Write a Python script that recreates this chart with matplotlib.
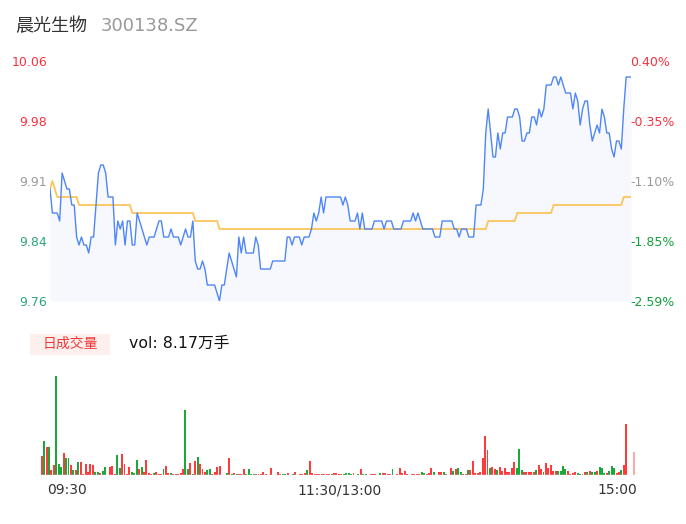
import matplotlib
matplotlib.use("Agg")
import matplotlib.pyplot as plt

plt.rcParams['font.family'] = ['DejaVu Sans', 'Noto Sans CJK SC']

W, H = 686, 524

# minute prices 09:30 .. 11:30 / 13:00 .. 15:00 (241 points)
price = [
    9.90, 9.87, 9.87, 9.87, 9.86, 9.92, 9.91, 9.90, 9.90, 9.88,
    9.88, 9.84, 9.83, 9.84, 9.83, 9.83, 9.82, 9.84, 9.84, 9.88,
    9.92, 9.93, 9.93, 9.92, 9.89, 9.89, 9.89, 9.83, 9.86, 9.85,
    9.86, 9.83, 9.86, 9.86, 9.83, 9.83, 9.87, 9.86, 9.85, 9.84,
    9.83, 9.84, 9.84, 9.84, 9.85, 9.86, 9.86, 9.84, 9.84, 9.84,
    9.85, 9.84, 9.84, 9.84, 9.83, 9.84, 9.85, 9.84, 9.84, 9.86,
    9.81, 9.80, 9.80, 9.81, 9.80, 9.78, 9.78, 9.78, 9.78, 9.77,
    9.76, 9.78, 9.78, 9.80, 9.82, 9.81, 9.80, 9.79, 9.84, 9.82,
    9.84, 9.82, 9.82, 9.82, 9.82, 9.84, 9.83, 9.80, 9.80, 9.80,
    9.80, 9.80, 9.81, 9.81, 9.81, 9.81, 9.81, 9.81, 9.84, 9.84,
    9.83, 9.84, 9.84, 9.84, 9.83, 9.84, 9.84, 9.84, 9.85, 9.87,
    9.86, 9.87, 9.89, 9.87, 9.89, 9.89, 9.89, 9.89, 9.89, 9.89,
    9.89, 9.88, 9.89, 9.88, 9.86, 9.86, 9.86, 9.87, 9.85, 9.87,
    9.85, 9.85, 9.85, 9.85, 9.86, 9.86, 9.86, 9.86, 9.85, 9.86,
    9.86, 9.86, 9.85, 9.85, 9.85, 9.85, 9.86, 9.86, 9.86, 9.86,
    9.87, 9.86, 9.87, 9.86, 9.85, 9.85, 9.85, 9.85, 9.85, 9.84,
    9.84, 9.84, 9.86, 9.86, 9.86, 9.86, 9.86, 9.85, 9.85, 9.84,
    9.85, 9.85, 9.85, 9.84, 9.84, 9.84, 9.88, 9.88, 9.88, 9.90,
    9.97, 10.00, 9.97, 9.94, 9.94, 9.97, 9.95, 9.97, 9.97, 9.99,
    9.99, 9.99, 10.00, 10.00, 9.99, 9.96, 9.96, 9.97, 9.97, 9.99,
    9.99, 9.98, 10.00, 9.99, 10.00, 10.03, 10.03, 10.03, 10.04, 10.04,
    10.03, 10.04, 10.03, 10.02, 10.02, 10.02, 10.00, 10.02, 10.01, 9.98,
    10.00, 10.01, 10.01, 9.98, 9.96, 9.97, 9.98, 9.97, 10.00, 9.99,
    9.97, 9.97, 9.95, 9.94, 9.96, 9.96, 9.95, 10.00, 10.04, 10.04,
    10.04,
]

# average price line
avg = ([9.90, 9.91, 9.90] + [9.89] * 9 + [9.88] * 22 + [9.87] * 26
       + [9.86] * 10 + [9.85] * 111 + [9.86] * 12 + [9.87] * 15
       + [9.88] * 29 + [9.89] * 4)

# minute volumes (relative) and colour flags (r = up, g = down)
vol = [
    18.7, 34, 28, 28, 5.3, 10, 99, 11, 7.7, 22,
    17, 17, 10, 5.3, 5.3, 13, 13, 0.7, 11, 2.7,
    10.7, 10.3, 3.3, 2.7, 2, 4, 8.3, 0.3, 8.3, 9.3,
    1.3, 20, 7.3, 21.3, 11.3, 0.7, 8.3, 3.3, 2, 15,
    6, 8.3, 3.3, 15, 2, 0.7, 2.3, 3.3, 1.3, 1.3,
    6.3, 9.3, 2, 1.7, 0.7, 0.7, 0.7, 1.7, 6.3, 65,
    6, 11.7, 0.7, 14, 18.3, 11.3, 6.3, 3.3, 4.7, 6,
    1.3, 3.3, 8.3, 9.3, 0.3, 0.3, 2, 17.3, 0.7, 1.7,
    0.7, 1.3, 1.3, 6, 0.7, 6.3, 0.7, 0.7, 0.7, 0.7,
    0.7, 3.3, 1.3, 0.5, 7.3, 0.3, 0.3, 3.3, 1, 0.7,
    0.7, 2.3, 0.3, 0.7, 3, 0.3, 1, 1, 1.7, 5.3,
    14, 2, 0.7, 1.3, 1.3, 1.3, 0.7, 0.7, 0.7, 0.7,
    2.3, 2.3, 0.7, 0.7,
    1.3, 2, 2, 0.7, 2, 0.5, 1, 6, 1, 0.7,
    0.3, 0.7, 0.7, 0.7, 0.3, 2, 2.3, 2.3, 1, 1,
    5.7, 0.3, 1, 7, 2, 3.7, 1.3, 0.3, 0.7, 0.7,
    0.7, 0.7, 2.7, 2, 1, 2, 7, 2.7, 0.3, 2.7,
    2.7, 3, 0.7, 0.3, 6.7, 4.3, 6, 7.3, 3, 0.7,
    1, 4.7, 4.7, 14, 2, 2, 3, 17, 39, 25,
    7.3, 8, 6, 4.7, 8, 4.3, 6.7, 3, 3.3, 7,
    13, 7, 26, 5, 3.3, 3.3, 2.7, 3.3, 3.3, 5,
    10, 5.7, 3, 12, 7, 10, 4, 4, 4, 4,
    9.3, 6, 3.7, 1.3, 1.7, 2.7, 1.7, 0.7, 1, 3,
    3, 4.3, 3, 3, 4.3, 7.7, 6.7, 2, 2.3, 3.7,
    9.3, 7.3, 2.3, 3, 5, 10, 51,
]
vol_dir = (
    "rgrgrrgggr" "ggrgrgrrrr" "rrggrggrrr" "rggrrrrggg" "rgrrrrgrrr"
    "grrgrrrrrg" "grgrgrrrgg" "rrrrrrgrgr" "grrrggggrr" "rrrrrrrrrg"
    "grrgrrrrrg" "rrrrrrrrrg" "rr" "rr"
    "ggggrrgrgg" "rrrrrgrrrr" "grrrrrrrrr" "rrggrrrgrr" "rgrrrgrggr"
    "rgrrrrrrrr" "grrgrrrrrr" "rgggrrrrrg" "rrgrrrrrgg" "ggrrrrggrr"
    "grggrgggrg" "ggrrgrr"
)
close_vol = 23  # last (15:00) bar

RED = "#ff3a3a"
GREEN = "#1ba83a"


def fx(px):
    return px / W


def fy(py):
    return 1 - py / H


fig = plt.figure(figsize=(W / 100, H / 100), dpi=100)

# ---- price panel
ax = fig.add_axes([fx(50), fy(301), (631 - 50) / W, 240 / H])
xs = list(range(len(price)))
ax.fill_between(xs, price, 9.76, color="#f6f8fe", lw=0)
ax.plot(xs, avg, color="#fbc55a", lw=1.3, solid_joinstyle="round")
ax.plot(xs, price, color="#4f86f7", lw=1.0, solid_joinstyle="round")
ax.set_xlim(0, 240)
ax.set_ylim(9.76, 10.06)
ax.axis("off")

left_labels = ["10.06", "9.98", "9.91", "9.84", "9.76"]
right_labels = ["0.40%", "-0.35%", "-1.10%", "-1.85%", "-2.59%"]
left_cols = ["#f5333f", "#f5333f", "#9a9a9a", "#2fa57c", "#2fa57c"]
right_cols = ["#f5333f", "#f5333f", "#9a9a9a", "#12a03a", "#12a03a"]
for i in range(5):
    y = 61 + i * 60
    fig.text(fx(47), fy(y), left_labels[i], color=left_cols[i], fontsize=9,
             ha="right", va="center_baseline")
    fig.text(fx(630), fy(y), right_labels[i], color=right_cols[i], fontsize=9,
             ha="left", va="center_baseline")

# ---- title
fig.text(fx(15), fy(26), "晨光生物", fontsize=13, color="#333333",
         va="center", ha="left")
fig.text(fx(101), fy(26), "300138.SZ", fontsize=13, color="#999999",
         va="center", ha="left")

# ---- volume panel
pitch = 2.436
x0 = 41.7
vax = fig.add_axes([fx(38), fy(475), (640 - 38) / W, 100 / H])
vax.set_xlim((38 - x0) / pitch, (640 - x0) / pitch)
vax.set_ylim(0, 100)
cols = [RED if c == "r" else GREEN for c in vol_dir]
vax.bar(range(len(vol)), vol, width=0.8, color=cols, lw=0)
vax.bar([243.3], [close_vol], width=0.8, color="#ffa6a6", lw=0)
vax.axhline(0, xmin=0.005, xmax=0.995, color="#e2e2e2", lw=1)
vax.axis("off")

fig.patches.append(plt.Rectangle((fx(30), fy(355)), 80 / W, 21 / H,
                                 transform=fig.transFigure,
                                 color="#fdf0ec", lw=0))
fig.text(fx(70), fy(344), "日成交量", fontsize=10, color="#f0393a",
         ha="center", va="center")
fig.text(fx(129), fy(343), "vol: 8.17万手", fontsize=11.3, color="#111111",
         ha="left", va="center")

time_labels = ["09:30", "11:30/13:00", "15:00"]
time_pos = [67, 340, 617]
for lab, px in zip(time_labels, time_pos):
    fig.text(fx(px), fy(490), lab, fontsize=10, color="#333333",
             ha="center", va="center")

fig.savefig("out.png", dpi=100, facecolor="white")
